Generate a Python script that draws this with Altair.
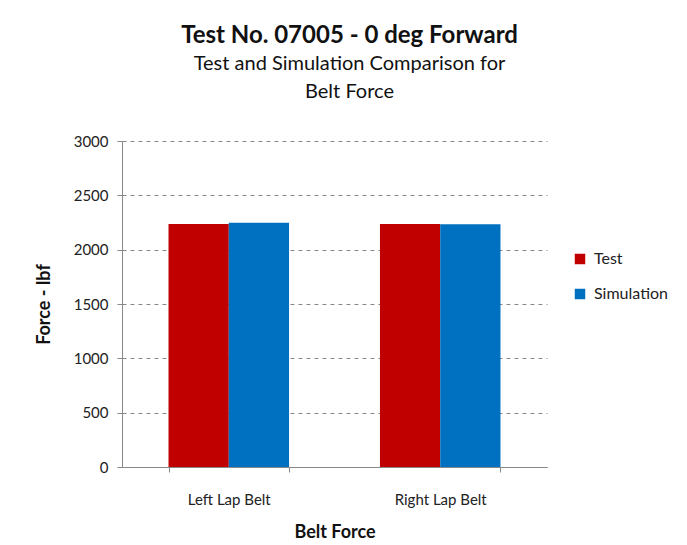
import altair as alt
import pandas as pd

categories = ["Left Lap Belt", "Right Lap Belt"]
series = ["Test", "Simulation"]
test_values = [2236, 2236]
sim_values = [2248, 2233]
colors = ["#C00000", "#0070C0"]

rows = []
for i, c in enumerate(categories):
    rows.append({"Belt": c, "Series": "Test", "Force": test_values[i]})
    rows.append({"Belt": c, "Series": "Simulation", "Force": sim_values[i]})
df = pd.DataFrame(rows)

FONT = "Lato"

chart = alt.Chart(df).mark_bar().encode(
    x=alt.X("Belt:N", sort=categories,
            scale=alt.Scale(paddingInner=0.43, paddingOuter=0.22),
            axis=alt.Axis(title="Belt Force", labelAngle=0, labelFontSize=15,
                          labelFont=FONT, labelColor="#222", titleFont=FONT,
                          titleFontSize=18, titleFontWeight="bold", titleColor="#111",
                          titlePadding=16, labelPadding=20, ticks=True, tickBand="extent",
                          tickSize=5, tickColor="#888",
                          domainColor="#888", grid=False)),
    xOffset=alt.XOffset("Series:N", sort=series),
    y=alt.Y("Force:Q", scale=alt.Scale(domain=[0, 3000]),
            axis=alt.Axis(title="Force - lbf", values=[0, 500, 1000, 1500, 2000, 2500, 3000],
                          format="d",
                          labelFont=FONT, labelFontSize=15, labelColor="#222",
                          titleFont=FONT, titleFontSize=18, titleFontWeight="bold",
                          titleColor="#111", titlePadding=20, labelPadding=9,
                          tickSize=5, tickColor="#888", domainColor="#888",
                          gridColor="#888", gridDash=[4, 4], gridWidth=1)),
    color=alt.Color("Series:N", sort=series,
                    scale=alt.Scale(domain=series, range=colors),
                    legend=alt.Legend(title=None, orient="none", legendX=450, legendY=110,
                                      symbolType="square", symbolSize=110,
                                      symbolStrokeWidth=0, labelFont=FONT,
                                      labelFontSize=16, labelColor="#222",
                                      rowPadding=19, labelOffset=6)),
).properties(
    width=425,
    height=326,
    title=alt.TitleParams(
        text="Test No. 07005 - 0 deg Forward",
        subtitle=["Test and Simulation Comparison for", "Belt Force"],
        font=FONT, fontSize=24, fontWeight="bold", color="#111",
        subtitleFont=FONT, subtitleFontSize=20, subtitleColor="#111",
        subtitlePadding=6, subtitleLineHeight=28,
        anchor="middle", dx=15, offset=32,
    ),
    padding={"left": 114, "top": 133, "right": 132, "bottom": 73},
    autosize=alt.AutoSizeParams(type="none"),
).configure(background="white").configure_view(stroke=None)

chart.save("out.html", embed_options={"renderer": "svg", "actions": False})
